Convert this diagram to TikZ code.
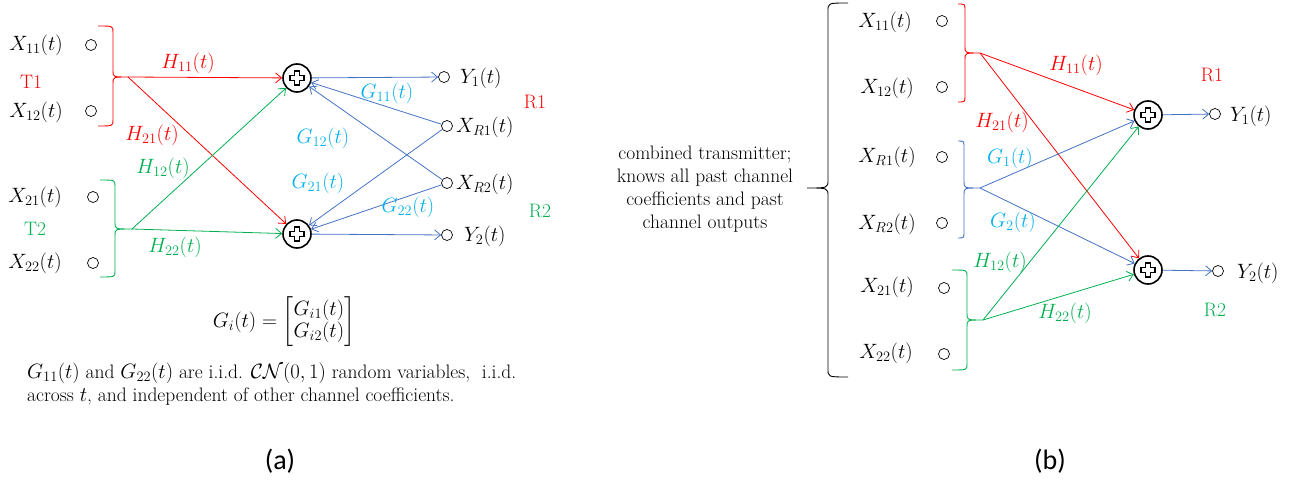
\documentclass[tikz,border=0pt]{standalone}
\usepackage{amsmath}
\usepackage{fontspec}
\newfontfamily\capfont{Carlito}
\usetikzlibrary{arrows.meta}
\definecolor{cred}{RGB}{255,0,0}
\definecolor{cgreen}{RGB}{0,176,80}
\definecolor{cblue}{RGB}{68,114,196}
\definecolor{clblue}{RGB}{0,176,240}
\newcommand{\plusmark}[1]{\draw[line width=1.3pt,shift={(#1)}] (-2.6,-7) -- (2.6,-7) -- (2.6,-2.6) -- (7,-2.6) -- (7,2.6) -- (2.6,2.6) -- (2.6,7) -- (-2.6,7) -- (-2.6,2.6) -- (-7,2.6) -- (-7,-2.6) -- (-2.6,-2.6) -- cycle;}
\begin{document}
\begin{tikzpicture}[x=1pt,y=-1pt,font=\fontsize{20.74}{23}\selectfont,
  port/.style={circle,draw,minimum size=11pt,inner sep=0pt,line width=0.7pt},
  adder/.style={circle,draw,minimum size=28pt,inner sep=0pt,line width=1.6pt},
  arr/.style={-{Straight Barb[length=6pt,width=10pt]},line width=0.8pt},
  bracepath/.style={line width=0.9pt},
  lab/.style={inner sep=1pt},
  txt/.style={inner sep=1pt,font=\fontsize{19.5}{23}\selectfont}]
\useasboundingbox (0,0) rectangle (1306,481);

% ---------------- panel (a) ----------------
\node[lab] (la11) at (36,45) {$X_{11}(t)$};
\node[port] (pa11) at (91,45) {};
\node[lab] (la12) at (36,112) {$X_{12}(t)$};
\node[port] (pa12) at (91,111) {};
\node[txt,text=cred] (T1) at (31,82) {T1};
\node[lab] (la21) at (35,197) {$X_{21}(t)$};
\node[port] (pa21) at (93,197) {};
\node[lab] (la22) at (35,263) {$X_{22}(t)$};
\node[port] (pa22) at (93,263) {};
\node[txt,text=cgreen] (T2) at (35,229) {T2};

\draw[bracepath,cred] (98,26) .. controls (113,26) .. (113,32) -- (113,71) .. controls (113,77) .. (128,77) .. controls (113,77) .. (113,83) -- (113,120) .. controls (113,126) .. (98,126);
\draw[bracepath,cgreen] (100,180) .. controls (115,180) .. (115,186) -- (115,223) .. controls (115,229) .. (132,229) .. controls (115,229) .. (115,235) -- (115,271) .. controls (115,277) .. (100,277);
\coordinate (ta1) at (128,77);
\coordinate (ta2) at (132,229);

\node[adder] (sa1) at (297,78) {};
\node[adder] (sa2) at (297,234) {};
\plusmark{sa1}
\plusmark{sa2}

\node[port] (ya1) at (444,77) {};
\node[lab,anchor=west] (lya1) at (459,78) {$Y_1(t)$};
\node[port] (xr1) at (447,126) {};
\node[lab,anchor=west] (lxr1) at (455,127) {$X_{R1}(t)$};
\node[port] (xr2) at (447,183) {};
\node[lab,anchor=west] (lxr2) at (455,184) {$X_{R2}(t)$};
\node[port] (ya2) at (447,235) {};
\node[lab,anchor=west] (lya2) at (463,236) {$Y_2(t)$};
\node[txt,text=cred] (R1) at (535,102) {R1};
\node[txt,text=cgreen] (R2) at (540,211) {R2};

\draw[arr,cred] (ta1) -- (sa1);
\draw[arr,cred] (ta1) -- (sa2);
\draw[arr,cgreen] (ta2) -- (sa1);
\draw[arr,cgreen] (ta2) -- (sa2);
\draw[arr,cblue] (sa1) -- (ya1);
\draw[arr,cblue] (sa2) -- (ya2);
\draw[arr,cblue] (xr1) -- (sa1);
\draw[arr,cblue] (xr2) -- (sa1);
\draw[arr,cblue] (xr1) -- (sa2);
\draw[arr,cblue] (xr2) -- (sa2);

\node[lab,text=cred] (h11a) at (188,63) {$H_{11}(t)$};
\node[lab,text=cred] (h21a) at (152,135) {$H_{21}(t)$};
\node[lab,text=cgreen] (h12a) at (163,168) {$H_{12}(t)$};
\node[lab,text=cgreen] (h22a) at (175,247) {$H_{22}(t)$};
\node[lab,text=clblue] (g11a) at (387,93) {$G_{11}(t)$};
\node[lab,text=clblue] (g12a) at (323,138) {$G_{12}(t)$};
\node[lab,text=clblue] (g21a) at (318,183) {$G_{21}(t)$};
\node[lab,text=clblue] (g22a) at (408,207) {$G_{22}(t)$};

\node[lab] (eq) at (284,322) {$G_i(t)=\begin{bmatrix}G_{i1}(t)\\[-1pt] G_{i2}(t)\end{bmatrix}$};
\node[txt,anchor=west,align=left] (note) at (26,384) {$G_{11}(t)$ and $G_{22}(t)$ are i.i.d. $\mathcal{CN}(0,1)$ random variables,\ \ i.i.d.\\ across $t$, and independent of other channel coefficients.};

\node[lab,font=\capfont\fontsize{28}{30}\selectfont] (capa) at (280,461) {(a)};

% ---------------- panel (b) ----------------
\draw[bracepath,black] (848,3) .. controls (828,3) .. (828,11) -- (828,180) .. controls (828,188) .. (807,188) .. controls (828,188) .. (828,196) -- (828,369) .. controls (828,377) .. (848,377);
\node[txt,align=center] (comb) at (705,189) {combined transmitter;\\ knows all past channel\\ coefficients and past\\ channel outputs};

\node[lab] (lb11) at (885,22) {$X_{11}(t)$};
\node[port] (pb11) at (942,21) {};
\node[lab] (lb12) at (887,88) {$X_{12}(t)$};
\node[port] (pb12) at (942,87) {};
\node[lab] (lbr1) at (887,157) {$X_{R1}(t)$};
\node[port] (pbr1) at (942,157) {};
\node[lab] (lbr2) at (887,224) {$X_{R2}(t)$};
\node[port] (pbr2) at (942,223) {};
\node[lab] (lb21) at (887,287) {$X_{21}(t)$};
\node[port] (pb21) at (944,288) {};
\node[lab] (lb22) at (886,353) {$X_{22}(t)$};
\node[port] (pb22) at (944,354) {};

\draw[bracepath,cred] (958,4) .. controls (965,4) .. (965,10) -- (965,47) .. controls (965,53) .. (980,53) .. controls (965,53) .. (965,59) -- (965,96) .. controls (965,102) .. (958,102);
\draw[bracepath,cblue] (958,141) .. controls (964,141) .. (964,147) -- (964,182) .. controls (964,188) .. (980,188) .. controls (964,188) .. (964,194) -- (964,232) .. controls (964,238) .. (958,238);
\draw[bracepath,cgreen] (952,270) .. controls (967,270) .. (967,276) -- (967,314) .. controls (967,320) .. (983,320) .. controls (967,320) .. (967,326) -- (967,364) .. controls (967,370) .. (952,370);
\coordinate (tb1) at (980,53);
\coordinate (tbr) at (980,188);
\coordinate (tb2) at (983,320);

\node[adder] (sb1) at (1148,115) {};
\node[adder] (sb2) at (1148,270) {};
\plusmark{sb1}
\plusmark{sb2}
\node[port] (yb1) at (1215,114) {};
\node[lab,anchor=west] (lyb1) at (1229,116) {$Y_1(t)$};
\node[port] (yb2) at (1218,271) {};
\node[lab,anchor=west] (lyb2) at (1236,273) {$Y_2(t)$};
\node[txt,text=cred] (R1b) at (1212,75) {R1};
\node[txt,text=cgreen] (R2b) at (1215,310) {R2};

\draw[arr,cred] (tb1) -- (sb1);
\draw[arr,cred] (tb1) -- (sb2);
\draw[arr,cblue] (tbr) -- (sb1);
\draw[arr,cblue] (tbr) -- (sb2);
\draw[arr,cgreen] (tb2) -- (sb1);
\draw[arr,cgreen] (tb2) -- (sb2);
\draw[arr,cblue] (sb1) -- (yb1);
\draw[arr,cblue] (sb2) -- (yb2);

\node[lab,text=cred] (h11b) at (1076,65) {$H_{11}(t)$};
\node[lab,text=cred] (h21b) at (1002,122) {$H_{21}(t)$};
\node[lab,text=clblue] (g1b) at (1010,158) {$G_1(t)$};
\node[lab,text=clblue] (g2b) at (1013,222) {$G_2(t)$};
\node[lab,text=cgreen] (h12b) at (1000,262) {$H_{12}(t)$};
\node[lab,text=cgreen] (h22b) at (1065,313) {$H_{22}(t)$};

\node[lab,font=\capfont\fontsize{28}{30}\selectfont] (capb) at (1050,461) {(b)};
\end{tikzpicture}
\end{document}
